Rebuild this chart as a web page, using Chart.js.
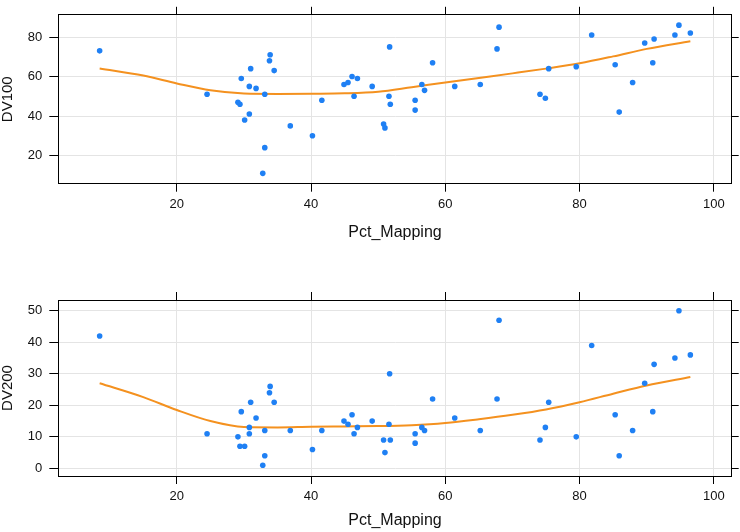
<!DOCTYPE html>
<html>
<head>
<meta charset="utf-8">
<script src="https://cdn.jsdelivr.net/npm/chart.js@4"></script>
<style>
  body { margin: 0; background: #fff; }
  #wrap { position: relative; width: 740px; height: 532px; }
  .panel { position: absolute; left: 0; width: 740px; }
  #top { top: 0; height: 270px; }
  #bottom { top: 270px; height: 262px; }
</style>
</head>
<body>
<div id="wrap">
  <div class="panel" id="top"><canvas id="graph--dv100"></canvas></div>
  <div class="panel" id="bottom"><canvas id="graph--dv200"></canvas></div>
</div>
<script>
const pctMapping = [8.5, 24.5, 29.1, 29.4, 29.6, 30.1, 30.8, 30.8, 31.0, 31.8,
  32.8, 33.1, 33.1, 33.8, 33.9, 34.5, 36.9, 40.2, 41.6, 44.9,
  45.5, 46.1, 46.4, 46.9, 49.1, 50.8, 51.0, 51.6, 51.7, 51.8,
  55.5, 55.5, 56.5, 56.9, 58.1, 61.4, 65.2, 67.7, 68.0, 74.1,
  74.9, 75.4, 79.5, 81.8, 85.3, 85.9, 87.9, 89.7, 90.9, 91.1,
  94.2, 94.8, 96.5]
const dv100 = [73, 51, 47, 46, 59, 38, 41, 55, 64, 54,
  11, 51, 24, 68, 71, 63, 35, 30, 48, 56,
  57, 60, 50, 59, 55, 36, 34, 50, 75, 46,
  48, 43, 56, 53, 67, 55, 56, 74, 85, 51,
  49, 64, 65, 81, 66, 42, 57, 77, 67, 79,
  81, 86, 82]
const dv200 = [42, 11, 10, 7, 18, 7, 11, 13, 21, 16,
  1, 12, 4, 24, 26, 21, 12, 6, 12, 15,
  14, 17, 11, 13, 15, 9, 5, 14, 30, 9,
  11, 8, 13, 12, 22, 16, 12, 22, 47, 9,
  13, 21, 10, 39, 17, 4, 12, 27, 18, 33,
  35, 50, 36]

// smoother curve, read at a few x positions
const smoothX = [8.5, 15, 20, 25, 30, 35, 40, 45, 50, 55, 60, 65, 70, 75, 80, 85, 90, 96.5]
const smooth100 = [64.1, 60.5, 56.5, 53.0, 51.4, 51.2, 51.3, 51.5, 52.3, 54.6, 57.0, 59.3, 61.6, 64.0, 66.7, 70.2, 74.0, 77.9]
const smooth200 = [27.0, 22.6, 18.5, 15.0, 13.1, 13.0, 13.2, 13.3, 13.4, 13.7, 14.4, 15.6, 17.0, 18.7, 21.0, 23.7, 26.3, 29.0]

const xTicks = [20, 40, 60, 80, 100]
const y100Ticks = [20, 40, 60, 80]
const y200Ticks = [0, 10, 20, 30, 40, 50]

const pointBlue = '#1f80f4'
const lineOrange = '#f4911f'
const fontFamily = '"Liberation Sans", Arial, sans-serif'

function toPoints(xs, ys) {
  return xs.map((x, i) => ({ x: x, y: ys[i] }))
}

function fixedTicks(values) {
  return scale => { scale.ticks = values.map(v => ({ value: v })) }
}

function panel(canvas, opts) {
  const tickFont = { family: fontFamily, size: 13 }
  const axisBorder = { display: true, color: '#000', width: 1 }
  return new Chart(canvas, {
    type: 'scatter',
    data: {
      datasets: [
        {
          data: toPoints(pctMapping, opts.values),
          backgroundColor: pointBlue,
          borderColor: pointBlue,
          pointRadius: 2.8,
          pointBorderWidth: 0
        },
        {
          type: 'line',
          data: toPoints(smoothX, opts.smooth),
          borderColor: lineOrange,
          borderWidth: 2,
          pointRadius: 0,
          cubicInterpolationMode: 'monotone',
          fill: false
        }
      ]
    },
    options: {
      responsive: true,
      maintainAspectRatio: false,
      animation: false,
      layout: { padding: 0 },
      plugins: { legend: { display: false }, tooltip: { enabled: false } },
      scales: {
        x: {
          type: 'linear', position: 'bottom', min: 2.34, max: 102.66,
          afterBuildTicks: fixedTicks(xTicks),
          afterFit: s => { s.height = opts.bottomHeight },
          grid: { color: '#e4e4e4', tickColor: '#000', tickLength: 8 },
          border: axisBorder,
          ticks: { font: tickFont, color: '#111', padding: 5, maxRotation: 0 },
          title: {
            display: true, text: 'Pct_Mapping', color: '#111',
            font: { family: fontFamily, size: 16, lineHeight: 1 },
            padding: { top: 0, bottom: opts.titlePad }
          }
        },
        xTop: {
          type: 'linear', position: 'top', display: true, min: 2.34, max: 102.66,
          afterBuildTicks: fixedTicks(xTicks),
          afterFit: s => { s.height = opts.topHeight },
          grid: { drawOnChartArea: false, tickColor: '#000', tickLength: 8 },
          border: axisBorder,
          ticks: { color: 'rgba(0,0,0,0)', font: tickFont }
        },
        y: {
          type: 'linear', position: 'left', min: opts.yMin, max: opts.yMax,
          afterBuildTicks: fixedTicks(opts.yTicks),
          afterFit: s => { s.width = 58.3 },
          grid: { color: '#e4e4e4', tickColor: '#000', tickLength: 9 },
          border: axisBorder,
          ticks: { font: tickFont, color: '#111', padding: 7 },
          title: {
            display: true, text: opts.label, color: '#111',
            font: { family: fontFamily, size: 15, lineHeight: 1 },
            padding: 0
          }
        },
        yRight: {
          type: 'linear', position: 'right', display: true, min: opts.yMin, max: opts.yMax,
          afterBuildTicks: fixedTicks(opts.yTicks),
          afterFit: s => { s.width = 8.3 },
          grid: { drawOnChartArea: false, tickColor: '#000', tickLength: 7 },
          border: axisBorder,
          ticks: { color: 'rgba(0,0,0,0)', font: tickFont }
        }
      }
    }
  })
}

const dv100Chart = panel(document.querySelector('#graph--dv100'), {
  values: dv100, smooth: smooth100, label: 'DV100',
  yMin: 5.75, yMax: 91.25, yTicks: y100Ticks,
  topHeight: 8, bottomHeight: 86.3, titlePad: 29
})

const dv200Chart = panel(document.querySelector('#graph--dv200'), {
  values: dv200, smooth: smooth200, label: 'DV200',
  yMin: -2.43, yMax: 53.43, yTicks: y200Ticks,
  topHeight: 30, bottomHeight: 56, titlePad: 3
})
</script>
</body>
</html>
